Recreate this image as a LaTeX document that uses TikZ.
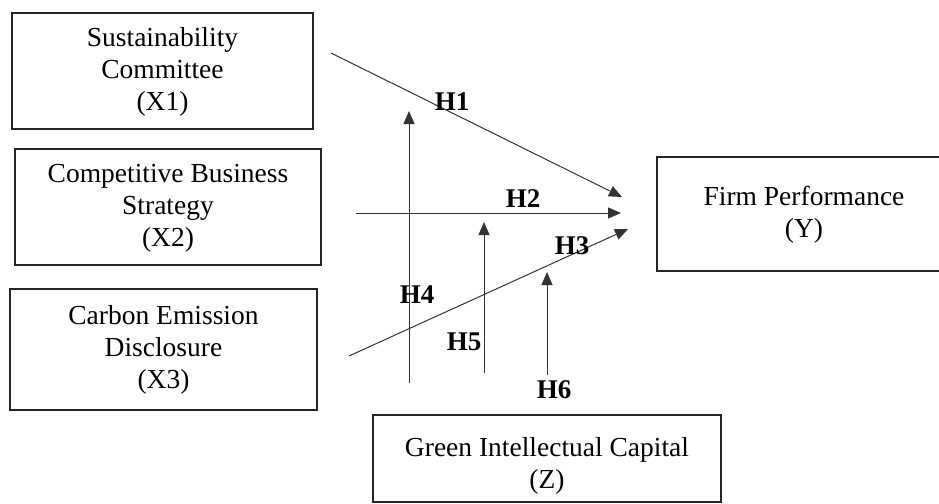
\documentclass[tikz,border=0pt]{standalone}
\usepackage{fontspec}
\setmainfont{Liberation Serif}
\usetikzlibrary{arrows.meta}
\begin{document}
\begin{tikzpicture}[x=1pt,y=-1pt,
  box/.style={draw=black!85,line width=1.6pt},
  boxtext/.style={align=center,inner sep=0pt,font=\fontsize{27.5}{32}\selectfont},
  hyp/.style={draw=black!80,line width=1pt,-{Triangle[width=11pt,length=13pt]}},
  hlabel/.style={inner sep=0pt,font=\fontsize{27}{30}\selectfont\bfseries}]
\useasboundingbox (0,0) rectangle (939,503);
% boxes
\draw[box] (12,13) rectangle (313,129);
\node[boxtext] (x1) at (162.5,72) {Sustainability\\Committee\\(X1)};
\draw[box] (15,149) rectangle (321,265);
\node[boxtext] (x2) at (168,208) {Competitive Business\\Strategy\\(X2)};
\draw[box] (10,289) rectangle (317,410);
\node[boxtext] (x3) at (163.5,350) {Carbon Emission\\Disclosure\\(X3)};
\draw[box] (657,157) rectangle (950,271);
\node[boxtext] (y) at (804,215) {Firm Performance\\(Y)};
\draw[box] (373,415) rectangle (721,502);
\node[boxtext] (z) at (547,466) {Green Intellectual Capital\\(Z)};
% connector ends
\coordinate (s1) at (331,53);
\coordinate (e1) at (622,197);
\coordinate (s2) at (356,213);
\coordinate (e2) at (621,213);
\coordinate (s3) at (349,356);
\coordinate (e3) at (628,229);
\coordinate (s4) at (409,383);
\coordinate (e4) at (409,111);
\coordinate (s5) at (484,373);
\coordinate (e5) at (484,222);
\coordinate (s6) at (547,375);
\coordinate (e6) at (547,272);
\draw[hyp] (s1) -- (e1);
\draw[hyp] (s2) -- (e2);
\draw[hyp] (s3) -- (e3);
\draw[hyp] (s4) -- (e4);
\draw[hyp] (s5) -- (e5);
\draw[hyp] (s6) -- (e6);
% labels
\node[hlabel] (h1) at (452,102) {H1};
\node[hlabel] (h2) at (523,199) {H2};
\node[hlabel] (h3) at (572,246) {H3};
\node[hlabel] (h4) at (417,295) {H4};
\node[hlabel] (h5) at (464,342) {H5};
\node[hlabel] (h6) at (554,390) {H6};
\end{tikzpicture}
\end{document}
